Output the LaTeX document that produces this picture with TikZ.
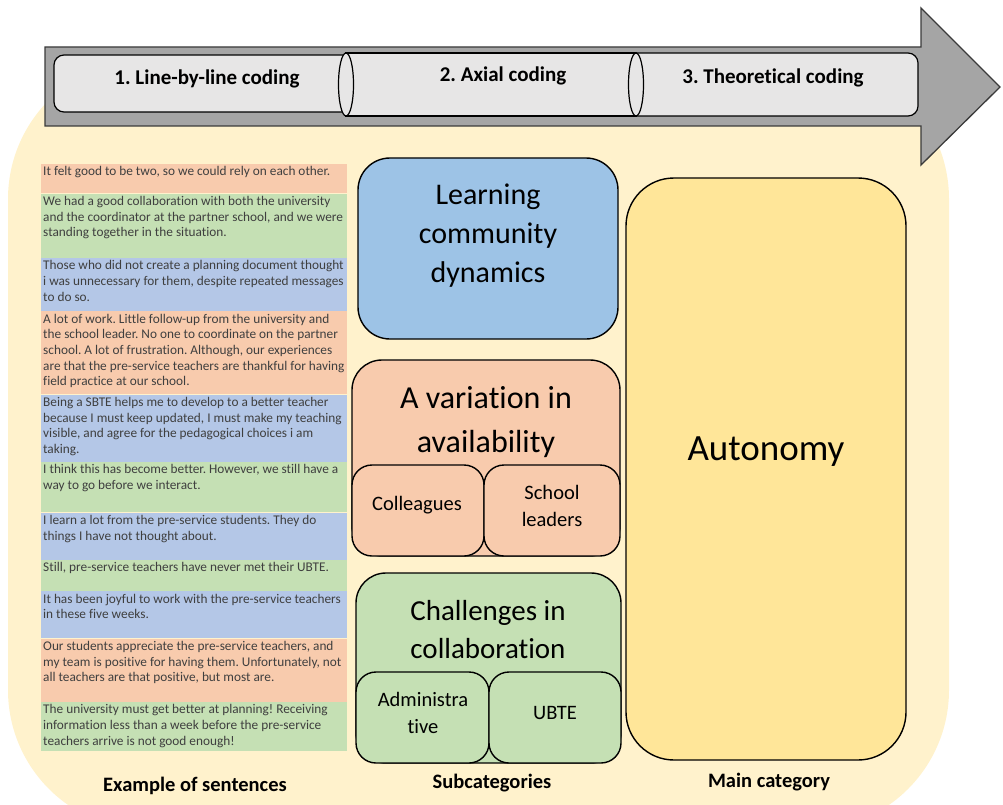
\documentclass[tikz,border=0pt]{standalone}
\usepackage{fontspec}
\setmainfont{Carlito}[Ligatures=NoCommon]
\frenchspacing

\definecolor{bgyellow}{HTML}{FFF2CC}
\definecolor{shaftgray}{HTML}{A5A5A5}
\definecolor{shaftline}{HTML}{3A3A3A}
\definecolor{stagefill}{HTML}{E7E6E6}
\definecolor{roworange}{HTML}{F8CBAD}
\definecolor{rowgreen}{HTML}{C5E0B4}
\definecolor{rowblue}{HTML}{B4C7E7}
\definecolor{catblue}{HTML}{9DC3E6}
\definecolor{catorange}{HTML}{F8CBAD}
\definecolor{catgreen}{HTML}{C5E0B4}
\definecolor{catyellow}{HTML}{FFE699}
\definecolor{sentgray}{HTML}{3F3F3F}

\newcommand\sentfont{\fontsize{13.3}{15.7}\selectfont}
% one quoted sentence: fixed row height, text from the top
\newcommand\sentence[2]{\parbox[t][#1][t]{302pt}{\raggedright\vspace{2.5pt}#2}}

\begin{document}
\begin{tikzpicture}[x=1pt,y=-1pt,
  sentrow/.style={anchor=north west, inner xsep=2pt, inner ysep=0pt,
    text=sentgray, font=\sentfont},
  stagebox/.style={fill=stagefill, draw=black, line width=1.2pt},
  stagelabel/.style={font=\fontsize{21}{25}\selectfont\bfseries, text=black},
  footlabel/.style={font=\fontsize{20.5}{25}\selectfont\bfseries, text=black},
  catbox/.style={draw=black, line width=1.4pt, inner sep=0pt},
  bigtext/.style={align=center, text=black},
  subtext/.style={align=center, text=black, font=\fontsize{20.5}{27}\selectfont},
]
\useasboundingbox (0,0) rectangle (1003,805);

% background panel
\fill[bgyellow, rounded corners=140pt] (8,59) rectangle (949,830);

% process arrow
\draw[fill=shaftgray, draw=shaftline, line width=1.3pt, line join=miter]
  (45,47) -- (921,47) -- (921,8) -- (1000,87) -- (921,165) -- (921,126) -- (45,126) -- cycle;

% stage 1
\draw[stagebox] (346,55) -- (64,55) arc[start angle=90, end angle=180, radius=10pt]
  -- (54,102) arc[start angle=180, end angle=270, radius=10pt] -- (346,112) -- cycle;
% stage 2
\draw[stagebox] (346,53) rectangle (636,116);
\draw[stagebox] (346,84.5) ellipse [x radius=7.5pt, y radius=31.5pt];
% stage 3
\draw[stagebox] (636,53) -- (908,53) arc[start angle=90, end angle=0, radius=10pt]
  -- (918,106) arc[start angle=0, end angle=-90, radius=10pt] -- (636,116) -- cycle;
\draw[stagebox] (636,84.5) ellipse [x radius=7.5pt, y radius=31.5pt];

\node[stagelabel] (st1) at (207,79) {1. Line-by-line coding};
\node[stagelabel] (st2) at (503,76) {2. Axial coding};
\node[stagelabel] (st3) at (773,78) {3. Theoretical coding};

% example sentences
\node[sentrow, fill=roworange] (s1) at (41,164) {\sentence{29pt}{It felt good to be two, so we could rely on each other.}};
\node[sentrow, fill=rowgreen] (s2) at (s1.south west) {\sentence{64pt}{We had a good collaboration with both the university\\and the coordinator at the partner school, and we were\\standing together in the situation.}};
\node[sentrow, fill=rowblue] (s3) at (s2.south west) {\sentence{53pt}{Those who did not create a planning document thought\\i was unnecessary for them, despite repeated messages\\to do so.}};
\node[sentrow, fill=roworange] (s4) at (s3.south west) {\sentence{83pt}{A lot of work. Little follow-up from the university and\\the school leader. No one to coordinate on the partner\\school. A lot of frustration. Although, our experiences\\are that the pre-service teachers are thankful for having\\field practice at our school.}};
\node[sentrow, fill=rowblue] (s5) at (s4.south west) {\sentence{67pt}{Being a SBTE helps me to develop to a better teacher\\because I must keep updated, I must make my teaching\\visible, and agree for the pedagogical choices i am\\taking.}};
\node[sentrow, fill=rowgreen] (s6) at (s5.south west) {\sentence{50pt}{I think this has become better. However, we still have a\\way to go before we interact.}};
\node[sentrow, fill=rowblue] (s7) at (s6.south west) {\sentence{47pt}{I learn a lot from the pre-service students. They do\\things I have not thought about.}};
\node[sentrow, fill=rowgreen] (s8) at (s7.south west) {\sentence{31pt}{Still, pre-service teachers have never met their UBTE.}};
\node[sentrow, fill=rowblue] (s9) at (s8.south west) {\sentence{47pt}{It has been joyful to work with the pre-service teachers\\in these five weeks.}};
\node[sentrow, fill=roworange] (s10) at (s9.south west) {\sentence{63pt}{Our students appreciate the pre-service teachers, and\\my team is positive for having them. Unfortunately, not\\all teachers are that positive, but most are.}};
\node[sentrow, fill=rowgreen] (s11) at (s10.south west) {\sentence{49pt}{The university must get better at planning! Receiving\\information less than a week before the pre-service\\teachers arrive is not good enough!}};

% subcategories
\node[catbox, fill=catblue, rounded corners=32pt, minimum width=260pt, minimum height=181pt] (lcd) at (488,248.5) {};
\node[bigtext, font=\fontsize{30}{39}\selectfont] (lcdtxt) at (488,236) {Learning\\community\\dynamics};

\node[catbox, fill=catorange, rounded corners=30pt, minimum width=268pt, minimum height=196pt] (avail) at (486,458) {};
\node[bigtext, font=\fontsize{32}{44}\selectfont] (availtxt) at (486,422) {A variation in\\availability};
\node[catbox, fill=catorange, rounded corners=20pt, minimum width=132pt, minimum height=91pt] (coll) at (418,510.5) {};
\node[catbox, fill=catorange, rounded corners=20pt, minimum width=136pt, minimum height=91pt] (lead) at (552,510.5) {};
\node[subtext] (colltxt) at (417,505) {Colleagues};
\node[subtext] (leadtxt) at (552,506) {School\\leaders};

\node[catbox, fill=catgreen, rounded corners=30pt, minimum width=265pt, minimum height=190pt] (chal) at (488.5,668) {};
\node[bigtext, font=\fontsize{29}{38}\selectfont] (chaltxt) at (488,630) {Challenges in\\collaboration};
\node[catbox, fill=catgreen, rounded corners=20pt, minimum width=133pt, minimum height=91pt] (adm) at (422.5,717.5) {};
\node[catbox, fill=catgreen, rounded corners=20pt, minimum width=132pt, minimum height=91pt] (ubte) at (555,717.5) {};
\node[subtext] (admtxt) at (423,713) {Administra\\tive};
\node[subtext] (ubtetxt) at (555,713) {UBTE};

% main category
\node[catbox, fill=catyellow, rounded corners=48pt, minimum width=280pt, minimum height=582pt] (auto) at (766,469) {};
\node[bigtext, font=\fontsize{37}{44}\selectfont] (autotxt) at (766,452) {Autonomy};

% column captions
\node[footlabel] (capsent) at (195,786) {Example of sentences};
\node[footlabel] (capsub) at (492,783) {Subcategories};
\node[footlabel] (capmain) at (769,782) {Main category};
\end{tikzpicture}
\end{document}
